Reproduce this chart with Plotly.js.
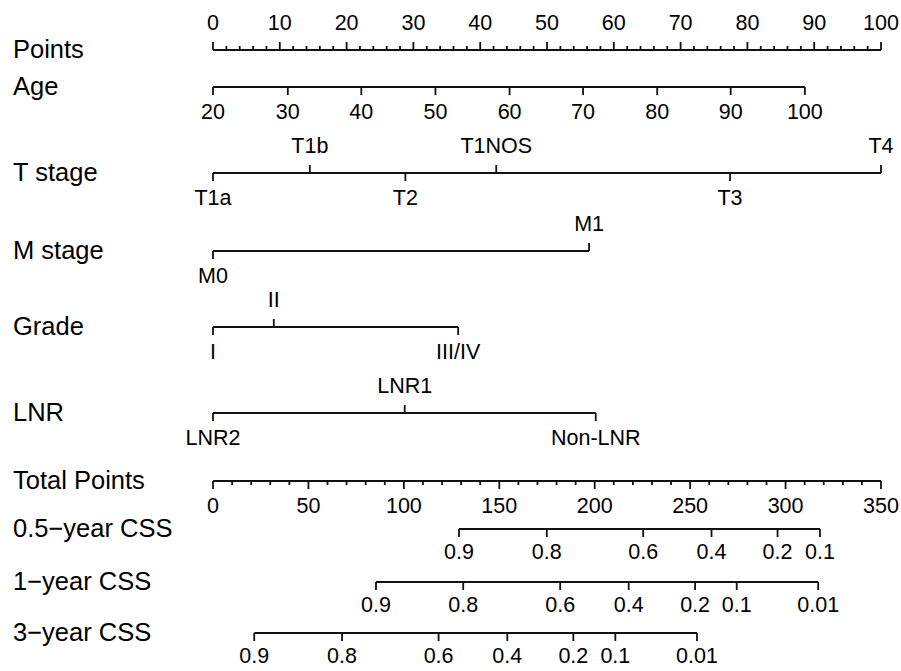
<!DOCTYPE html>
<html><head><meta charset="utf-8">
<script src="https://cdn.plot.ly/plotly-3.0.1.min.js"></script>
<style>html,body{margin:0;padding:0;background:#fff}</style>
</head><body><div id="chart" style="width:901px;height:671px"></div>
<script>
// ---------- data ----------
const rowNames = ['Points','Age','T stage','M stage','Grade','LNR','Total Points','0.5\u2212year CSS','1\u2212year CSS','3\u2212year CSS'];
const pointsTicks = [0,10,20,30,40,50,60,70,80,90,100];
const ageLabels = ['20','30','40','50','60','70','80','90','100'];
const agePoints = [0,11.2,22.2,33.3,44.4,55.4,66.5,77.5,88.6];
const tLabels = ['T1a','T1b','T2','T1NOS','T3','T4'];
const tPoints = [0,14.5,28.8,42.4,77.4,100];
const mLabels = ['M0','M1'];
const mPoints = [0,56.3];
const gradeLabels = ['I','II','III/IV'];
const gradePoints = [0,9.1,36.7];
const lnrLabels = ['LNR2','LNR1','Non-LNR'];
const lnrPoints = [0,28.7,57.3];
const totalTicks = [0,50,100,150,200,250,300,350];
const css05Labels = ['0.9','0.8','0.6','0.4','0.2','0.1'];
const css05Total = [128.9,174.9,225.4,261.2,295.8,318.0];
const css1Labels = ['0.9','0.8','0.6','0.4','0.2','0.1','0.01'];
const css1Total = [85.4,131.1,181.9,217.8,252.6,274.4,317.1];
const css3Labels = ['0.9','0.8','0.6','0.4','0.2','0.1','0.01'];
const css3Total = [21.6,67.6,118.2,154.2,188.8,210.8,253.6];

// ---------- layout / style ----------
const W = 901, H = 671;
const X0 = 213, X1 = 881;            // pixel span of 0..100 points / 0..350 total
const rowY = [50,87,173,251,327,413,481,529,582,633];
const TICK = 8, MINOR = 4;
const ABOVE = -25, BELOW = 27, CSSBELOW = 24.5;
const FONT = 'Liberation Sans, Arial, Helvetica, sans-serif';
const LC = '#111';
const TICKFONT = 21.5;

const pxPerPt = (X1 - X0) / 100;
const pxPerTot = (X1 - X0) / 350;
const xRange = [-X0 / pxPerPt, (W - X0) / pxPerPt];
const x2Range = [-X0 / pxPerTot, (W - X0) / pxPerTot];

const seg = {x: {x: [], y: []}, x2: {x: [], y: []}};
const txt = {x: {x: [], y: [], t: []}, x2: {x: [], y: [], t: []}};

function line(ax, a, b, y) { seg[ax].x.push(a, b, null); seg[ax].y.push(y, y, null); }
function tick(ax, v, y, len) { seg[ax].x.push(v, v, null); seg[ax].y.push(y, y + len, null); }
function label(ax, v, y, t) { txt[ax].x.push(v); txt[ax].y.push(y); txt[ax].t.push(t); }

// Points axis (ticks up, labels above)
(function(){
  const y = rowY[0];
  line('x', pointsTicks[0], pointsTicks[pointsTicks.length-1], y);
  for (let v = pointsTicks[0]; v <= pointsTicks[pointsTicks.length-1] + 1e-9; v += 2) {
    const major = pointsTicks.indexOf(v) >= 0;
    tick('x', v, y, major ? -TICK : -MINOR);
  }
  pointsTicks.forEach(v => label('x', v, y + ABOVE, String(v)));
})();

// Age (all below)
(function(){
  const y = rowY[1];
  line('x', agePoints[0], agePoints[agePoints.length-1], y);
  agePoints.forEach((p,i) => { tick('x', p, y, TICK); label('x', p, y + BELOW, ageLabels[i]); });
})();

// categorical rows, sides: 1 above, 0 below
function catRow(points, labels, sides, y) {
  line('x', Math.min(...points), Math.max(...points), y);
  points.forEach((p,i) => {
    const up = sides[i] === 1;
    tick('x', p, y, up ? -TICK : TICK);
    label('x', p, y + (up ? ABOVE : BELOW), labels[i]);
  });
}
catRow(tPoints, tLabels, [0,1,0,1,0,1], rowY[2]);
catRow(mPoints, mLabels, [0,1], rowY[3]);
catRow(gradePoints, gradeLabels, [0,1,0], rowY[4]);
catRow(lnrPoints, lnrLabels, [0,1,0], rowY[5]);

// Total points (ticks down, labels below)
(function(){
  const y = rowY[6];
  line('x2', totalTicks[0], totalTicks[totalTicks.length-1], y);
  for (let v = totalTicks[0]; v <= totalTicks[totalTicks.length-1] + 1e-9; v += 10) {
    const major = totalTicks.indexOf(v) >= 0;
    tick('x2', v, y, major ? TICK : MINOR);
  }
  totalTicks.forEach(v => label('x2', v, y + BELOW, String(v)));
})();

// survival rows
function cssRow(tot, labels, y) {
  line('x2', Math.min(...tot), Math.max(...tot), y);
  tot.forEach((v,i) => { tick('x2', v, y, TICK); label('x2', v, y + CSSBELOW, labels[i]); });
}
cssRow(css05Total, css05Labels, rowY[7]);
cssRow(css1Total, css1Labels, rowY[8]);
cssRow(css3Total, css3Labels, rowY[9]);

const traces = [
  {type:'scatter', mode:'lines', x: seg.x.x, y: seg.x.y, xaxis:'x', yaxis:'y',
   line:{color:LC, width:1.8}, hoverinfo:'skip', connectgaps:false},
  {type:'scatter', mode:'lines', x: seg.x2.x, y: seg.x2.y, xaxis:'x2', yaxis:'y',
   line:{color:LC, width:1.8}, hoverinfo:'skip', connectgaps:false},
  {type:'scatter', mode:'text', x: txt.x.x, y: txt.x.y, text: txt.x.t, xaxis:'x', yaxis:'y',
   textposition:'middle center', textfont:{family:FONT, size:TICKFONT, color:'#000'}, cliponaxis:false, hoverinfo:'skip'},
  {type:'scatter', mode:'text', x: txt.x2.x, y: txt.x2.y, text: txt.x2.t, xaxis:'x2', yaxis:'y',
   textposition:'middle center', textfont:{family:FONT, size:TICKFONT, color:'#000'}, cliponaxis:false, hoverinfo:'skip'}
];

const annotations = rowNames.map((n,i) => ({
  xref:'paper', yref:'y', x: 12 / W, y: rowY[i] - 1, xanchor:'left', yanchor:'middle',
  text: n, showarrow:false, borderpad:0, font:{family:FONT, size:25.5, color:'#000'}
}));

const hidden = {visible:false, showgrid:false, zeroline:false, fixedrange:true};
const layout = {
  width: W, height: H,
  margin:{l:0, r:0, t:0, b:0, pad:0},
  paper_bgcolor:'#fff', plot_bgcolor:'#fff',
  showlegend:false,
  xaxis: Object.assign({range: xRange, domain:[0,1]}, hidden),
  xaxis2: Object.assign({range: x2Range, overlaying:'x', domain:[0,1]}, hidden),
  yaxis: Object.assign({range:[H, 0], domain:[0,1]}, hidden),
  annotations: annotations,
  hovermode:false
};
Plotly.newPlot('chart', traces, layout, {staticPlot:true, displayModeBar:false});
</script>
</body></html>
